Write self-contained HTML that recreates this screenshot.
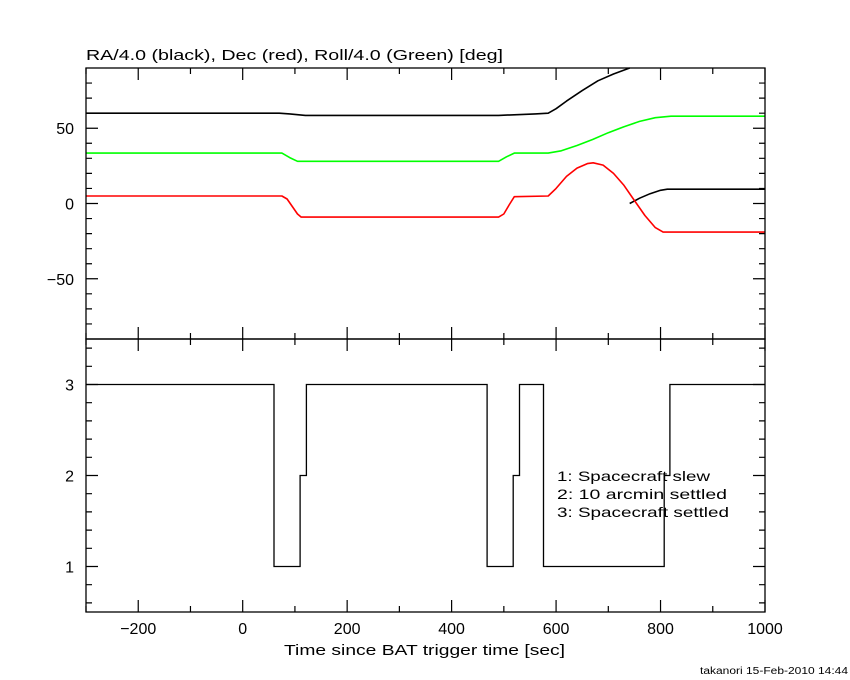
<!DOCTYPE html>
<html><head><meta charset="utf-8"><title>Slew plot</title>
<style>
html,body{margin:0;padding:0;background:#fff;}
svg{display:block;font-family:"Liberation Sans",sans-serif;}
</style></head>
<body>
<svg id="chart" width="850" height="680" viewBox="0 0 850 680" xmlns="http://www.w3.org/2000/svg">
<text x="86" y="60" font-size="15" textLength="417" lengthAdjust="spacingAndGlyphs">RA/4.0 (black), Dec (red), Roll/4.0 (Green) [deg]</text>
<text x="284" y="655" font-size="15" textLength="281" lengthAdjust="spacingAndGlyphs">Time since BAT trigger time [sec]</text>
<text x="700" y="674" font-size="10" textLength="148" lengthAdjust="spacingAndGlyphs">takanori 15-Feb-2010 14:44</text>
<g font-size="14">
<text x="557" y="481" textLength="153" lengthAdjust="spacingAndGlyphs">1: Spacecraft slew</text>
<text x="557" y="499" textLength="170" lengthAdjust="spacingAndGlyphs">2: 10 arcmin settled</text>
<text x="557" y="517" textLength="172" lengthAdjust="spacingAndGlyphs">3: Spacecraft settled</text>
</g>
</svg>
<script>
// Data
const raTime  = [-300, 70, 90, 120, 490, 560, 585, 600, 620, 650, 680, 710, 741];
const raVal   = [60, 60, 59.5, 58.5, 58.5, 59.5, 60, 63, 68, 75, 81.5, 86, 90];
const ra2Time = [741, 760, 780, 800, 813, 1000];
const ra2Val  = [0, 3.5, 6.5, 8.8, 9.5, 9.5];
const decTime = [-300, 75, 85, 95, 105, 112, 490, 500, 510, 520, 585, 600, 620, 640, 660, 671, 690, 710, 730, 750, 770, 790, 805, 1000];
const decVal  = [5, 5, 3, -2, -7, -9, -9, -7, -1, 4.5, 5, 10, 18, 23.5, 26.5, 27, 25.5, 20, 12, 2, -8, -16, -19, -19];
const rollTime= [-300, 75, 90, 105, 490, 505, 520, 585, 610, 640, 670, 700, 730, 760, 790, 820, 1000];
const rollVal = [33.5, 33.5, 30.5, 28, 28, 31, 33.5, 33.5, 35, 38.5, 42.5, 47, 51, 54.5, 57, 58, 58];
const stTime  = [-300, 60, 110, 122, 468, 518, 530, 576, 807, 818, 1000];
const stVal   = [3, 1, 2, 3, 1, 2, 3, 1, 2, 3];
const xTicks  = [-200, 0, 200, 400, 600, 800, 1000];
const yTopTicks = [-50, 0, 50];
const yBotTicks = [1, 2, 3];

const NS = "http://www.w3.org/2000/svg";
const svg = document.getElementById('chart');
const L = 86, R = 765, T1 = 68, B1 = 339, B2 = 612;
const xS = t => L + (t + 300) / 1300 * (R - L);
const yTop = v => T1 + (90 - v) / 180 * (B1 - T1);
const yBot = v => B1 + (3.5 - v) / 3 * (B2 - B1);

function mk(tag, attrs) { const e = document.createElementNS(NS, tag); for (const k in attrs) e.setAttribute(k, attrs[k]); svg.appendChild(e); return e; }

function line(ts, vs, color, name) {
  const d = ts.map((t, i) => (i ? 'L' : 'M') + xS(t).toFixed(1) + ' ' + yTop(vs[i]).toFixed(1)).join(' ');
  const p = mk('path', { d: d, fill: 'none', stroke: color, 'stroke-width': 1.6, 'stroke-linejoin': 'round' });
  
  
}
line(raTime, raVal, '#000', 'ra-series');
line(ra2Time, ra2Val, '#000', 'ra-series-wrapped');
line(rollTime, rollVal, '#00ff00', 'roll-series');
line(decTime, decVal, '#ff0000', 'dec-series');

// step line
let d = '';
for (let i = 0; i < stVal.length; i++) {
  const x0 = xS(stTime[i]), x1 = xS(stTime[i + 1]), y = yBot(stVal[i]);
  d += (i ? 'L' : 'M') + x0.toFixed(1) + ' ' + y.toFixed(1) + ' L' + x1.toFixed(1) + ' ' + y.toFixed(1) + ' ';
}
const sp = mk('path', { d: d, fill: 'none', stroke: '#000', 'stroke-width': 1.3 });



// frames
[[T1, B1, 'top-panel-frame'], [B1, B2, 'bottom-panel-frame']].forEach(([a, b, n]) => {
  const r = mk('rect', { x: L, y: a, width: R - L, height: b - a, fill: 'none', stroke: '#000', 'stroke-width': 1.3 });
  
  
});

// ticks
let td = '';
for (let t = -300; t <= 1000; t += 100) {
  const x = xS(t), len = (t % 200 === 0) ? 12 : 6;
  [T1, B1, B2].forEach(y0 => {
    if (y0 !== T1) td += `M${x} ${y0} L${x} ${y0 - len} `;
    if (y0 !== B2) td += `M${x} ${y0} L${x} ${y0 + len} `;
  });
}
for (let v = -80; v <= 80; v += 10) {
  const y = yTop(v), len = (v % 50 === 0) ? 12 : 6;
  td += `M${L} ${y} L${L + len} ${y} M${R} ${y} L${R - len} ${y} `;
}
for (let k = 3; k <= 17; k++) {
  const v = k / 5, y = yBot(v), len = (k % 5 === 0) ? 12 : 6;
  td += `M${L} ${y} L${L + len} ${y} M${R} ${y} L${R - len} ${y} `;
}
const tk = mk('path', { d: td, stroke: '#000', 'stroke-width': 1.2, fill: 'none' });



xTicks.forEach(t => {
  const e = mk('text', { x: xS(t), y: 634, 'font-size': 16, 'text-anchor': 'middle' });
  e.textContent = t < 0 ? '\u2212' + (-t) : String(t);
  
  
});
yTopTicks.forEach(v => {
  const e = mk('text', { x: 74, y: yTop(v) + 6, 'font-size': 16, 'text-anchor': 'end' });
  e.textContent = v < 0 ? '\u2212' + (-v) : String(v);
  
  
});
yBotTicks.forEach(v => {
  const e = mk('text', { x: 74, y: yBot(v) + 6, 'font-size': 16, 'text-anchor': 'end' });
  e.textContent = String(v);
  
  
});
</script>
</body></html>
